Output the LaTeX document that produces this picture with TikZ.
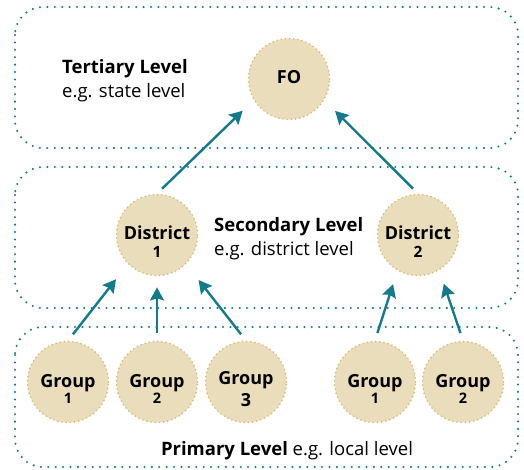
\documentclass[tikz,border=0pt]{standalone}
\usepackage{fontspec}
\setmainfont{Open Sans}
\usetikzlibrary{arrows.meta}

\definecolor{levelteal}{HTML}{137A8C}
\definecolor{unitfill}{HTML}{E9DDBB}
\definecolor{unitdots}{HTML}{D6BC72}

\begin{document}
\begin{tikzpicture}[x=1pt,y=-1pt,
	level/.style={draw=levelteal, line width=2.3pt, dash pattern=on 0pt off 7.4pt,
		line cap=round, rounded corners=28pt},
	unit/.style={circle, fill=unitfill, draw=unitdots, line width=1.8pt,
		dash pattern=on 0pt off 4.2pt, line cap=round, minimum size=81pt,
		inner sep=0pt, align=center, font=\bfseries\fontsize{18}{16}\selectfont},
	link/.style={draw=levelteal, line width=2.4pt,
		-{Stealth[length=13pt,width=14pt,inset=2pt]}},
	caption/.style={inner sep=0pt, align=left, font=\fontsize{18.5}{24}\selectfont}]

% parameters %{{{2

	\def\lift{\rule{0pt}{27pt}}
	\def\grp{\fontsize{14.5}{14}\selectfont}
	\def\dst{\fontsize{15.5}{16}\selectfont}

% canvas %{{{2

	\useasboundingbox (0,0) rectangle (524,469);

% level frames %{{{2

	\foreach \top/\bot in {7/148, 167/308, 327/467} {
		\draw[level] (15,\top) rectangle (518,\bot);
	}

% units %{{{2

	\node[unit, text depth=5pt] (fo) at (289,79) {FO};

	\node[unit] (d1) at (157,235) {\lift District\\[2pt]{\dst 1}};
	\node[unit] (d2) at (418,235) {\lift District\\[2pt]{\dst 2}};

	\node[unit] (g1) at (68,382)  {\lift Group\\{\grp 1}};
	\node[unit] (g2) at (157,382) {\lift Group\\{\grp 2}};
	\node[unit] (g3) at (246,382) {\lift Group\\[3pt]3};
	\node[unit] (g4) at (375,382) {\lift Group\\{\grp 1}};
	\node[unit] (g5) at (463,382) {\lift Group\\{\grp 2}};

% level captions %{{{2

	\node[caption, anchor=north west] (tertiary) at (62,59)
		{\textbf{Tertiary Level}\\e.g. state level};
	\node[caption, anchor=north west] (secondary) at (214,217)
		{\textbf{Secondary Level}\\e.g. district level};
	\node[caption, anchor=base] (primary) at (287,455)
		{\textbf{Primary Level} e.g. local level};

% links %{{{2

	\draw[link, shorten <=7pt, shorten >=15pt] (d1.north) -- (fo.211);
	\draw[link, shorten <=7pt, shorten >=15pt] (d2.north) -- (fo.329);

	\draw[link, shorten <=8pt, shorten >=19pt] (g1.north) -- (d1.225);
	\draw[link, shorten <=8pt, shorten >=11pt] (g2.north) -- (d1.south);
	\draw[link, shorten <=8pt, shorten >=20pt] (g3.north) -- (d1.315);
	\draw[link, shorten <=8pt, shorten >=14pt] (g4.north) -- (d2.240);
	\draw[link, shorten <=8pt, shorten >=14pt] (g5.north) -- (d2.301);

% closing %{{{2

\end{tikzpicture}
\end{document}
